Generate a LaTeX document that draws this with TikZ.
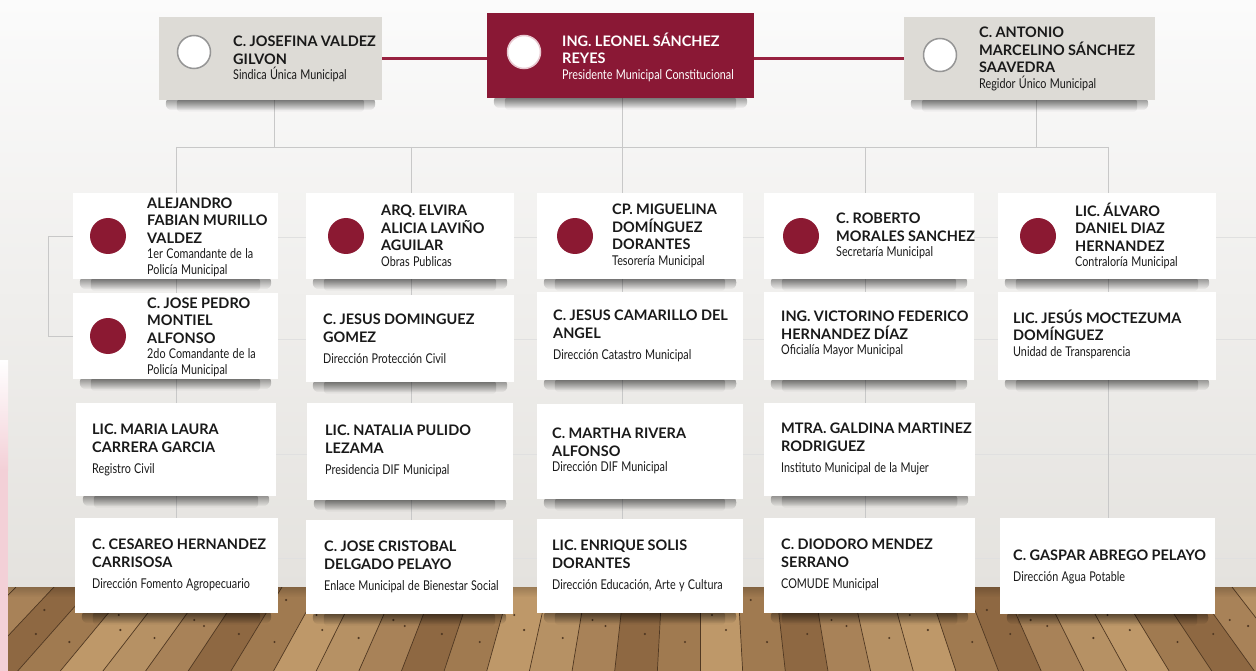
\documentclass[tikz,border=0pt]{standalone}
\usepackage{fontspec}
\setmainfont{Lato}
\newfontfamily\subfont{Lato}[FakeStretch=0.8]
\usetikzlibrary{fadings}
\definecolor{maroon}{RGB}{138,24,53}
\definecolor{dotred}{RGB}{139,25,50}
\definecolor{redln}{RGB}{152,34,64}
\definecolor{cardgray}{RGB}{221,219,214}
\definecolor{ringgray}{RGB}{150,150,150}
\definecolor{ringpink}{RGB}{232,200,208}
\definecolor{ink}{RGB}{25,25,25}
\definecolor{linegray}{RGB}{200,200,200}
\definecolor{walltop}{RGB}{251,251,251}
\definecolor{wallbot}{RGB}{228,226,222}
\definecolor{wood0}{RGB}{160,122,80}
\definecolor{wood1}{RGB}{182,145,100}
\definecolor{wood2}{RGB}{142,104,66}
\definecolor{wood3}{RGB}{190,152,105}
\definecolor{wood4}{RGB}{168,130,88}
\definecolor{plankline}{RGB}{80,56,34}
\definecolor{pinkstrip}{RGB}{243,208,215}
\tikzfading[name=shfade, top color=transparent!10, bottom color=transparent!100]
\newcommand\nm{\fontsize{14.5}{17.5}\selectfont\bfseries}
\newcommand\sbt{\fontsize{13.5}{15.5}\selectfont\subfont}
\newcommand\gp{\vspace{6pt}}
\newcommand\card[6]{\node[#2, minimum width={#5-#3}, minimum height={#6-#4}] (#1) at ({(#3+#5)/2},{(#4+#6)/2}) {};}
\newcommand\shadowunder[1]{%
  \fill[black, path fading=shfade, opacity=0.5, rounded corners=6pt] ([xshift=7pt,yshift=3pt]#1.south west) rectangle ([xshift=-7pt,yshift=-10pt]#1.south east);%
  \fill[black, path fading=shfade, opacity=0.3, rounded corners=4pt] ([xshift=18pt,yshift=2pt]#1.south west) rectangle ([xshift=-18pt,yshift=-12pt]#1.south east);}
\pgfdeclarelayer{walllayer}
\pgfdeclarelayer{linelayer}
\pgfdeclarelayer{shadowlayer}
\pgfsetlayers{walllayer,linelayer,shadowlayer,main}
\tikzset{
  whitecard/.style={rectangle, fill=white, inner sep=0},
  graycard/.style={rectangle, fill=cardgray, inner sep=0},
  redcard/.style={rectangle, fill=maroon, inner sep=0},
  dot/.style={circle, fill=dotred, minimum size=36pt, inner sep=0},
  ring/.style={circle, fill=white, draw=ringgray, line width=1.5pt, minimum size=33pt, inner sep=0},
  pinkring/.style={ring, draw=ringpink},
  txt/.style={anchor=west, align=left, inner sep=0, text width=220pt, text=ink},
  conn/.style={draw=linegray, line width=0.9pt},
  redline/.style={draw=redln, line width=3pt},
  tile/.style={draw=black!12, line width=0.8pt},
  plank/.style={draw=plankline, line width=0.7pt},
}
\begin{document}
\begin{tikzpicture}[x=1pt,y=-1pt]
\useasboundingbox (0,0) rectangle (1256,671);

% ---------- top row ----------
\card{jos}{graycard}{159}{17}{382}{100}
\node[ring] (josc) at (194,52) {};
\node[txt] (jost) at (233,59) {{\nm C. JOSEFINA VALDEZ\\GILVON\par}{\sbt Sindica Única Municipal\par}};

\card{leo}{redcard}{487}{13}{754}{98}
\node[pinkring] (leoc) at (524,52) {};
\node[txt, text=white] (leot) at (562,57) {{\nm ING. LEONEL SÁNCHEZ\\REYES\par}{\sbt Presidente Municipal Constitucional\par}};

\card{ant}{graycard}{904}{17}{1155}{100}
\node[ring] (antc) at (940,55) {};
\node[txt] (antt) at (979,59) {{\nm C. ANTONIO\\MARCELINO SÁNCHEZ\\SAAVEDRA\par}{\sbt Regidor Único Municipal\par}};

% ---------- row A ----------
\card{a1}{whitecard}{73}{193}{278}{279}
\node[dot] (a1c) at (108,236) {};
\node[txt] (a1t) at (147,237) {{\nm ALEJANDRO\\FABIAN MURILLO\\VALDEZ\par}{\sbt 1er Comandante de la\\Policía Municipal\par}};

\card{a2}{whitecard}{306}{193}{514}{279}
\node[dot] (a2c) at (346,236) {};
\node[txt] (a2t) at (381,236) {{\nm ARQ. ELVIRA\\ALICIA LAVIÑO\\AGUILAR\par}{\sbt Obras Publicas\par}};

\card{a3}{whitecard}{537}{193}{743}{279}
\node[dot] (a3c) at (575,236) {};
\node[txt] (a3t) at (612,236) {{\nm CP. MIGUELINA\\DOMÍNGUEZ\\DORANTES\par}{\sbt Tesorería Municipal\par}};

\card{a4}{whitecard}{764}{193}{974}{279}
\node[dot] (a4c) at (801,236) {};
\node[txt] (a4t) at (836,236) {{\nm C. ROBERTO\\MORALES SANCHEZ\par}{\sbt Secretaría Municipal\par}};

\card{a5}{whitecard}{998}{193}{1216}{279}
\node[dot] (a5c) at (1038,236) {};
\node[txt] (a5t) at (1075,236) {{\nm LIC. ÁLVARO\\DANIEL DIAZ\\HERNANDEZ\par}{\sbt Contraloría Municipal\par}};

% ---------- row B ----------
\card{b1}{whitecard}{73}{293}{278}{379}
\node[dot] (b1c) at (108,336) {};
\node[txt] (b1t) at (147,337) {{\nm C. JOSE PEDRO\\MONTIEL\\ALFONSO\par}{\sbt 2do Comandante de la\\Policía Municipal\par}};

\card{b2}{whitecard}{306}{295}{514}{382}
\node[txt] (b2t) at (323,339) {{\nm C. JESUS DOMINGUEZ\\GOMEZ\par}\gp{\sbt Dirección Protección Civil\par}};

\card{b3}{whitecard}{537}{292}{743}{380}
\node[txt] (b3t) at (553,336) {{\nm C. JESUS CAMARILLO DEL\\ANGEL\par}\gp{\sbt Dirección Catastro Municipal\par}};

\card{b4}{whitecard}{764}{292}{974}{380}
\node[txt] (b4t) at (781,334) {{\nm ING. VICTORINO FEDERICO\\HERNANDEZ DÍAZ\par}{\sbt Oficialía Mayor Municipal\par}};

\card{b5}{whitecard}{998}{292}{1216}{380}
\node[txt] (b5t) at (1013,334) {{\nm LIC. JESÚS MOCTEZUMA\\DOMÍNGUEZ\par}{\sbt Unidad de Transparencia\par}};

% ---------- row C ----------
\card{c1}{whitecard}{76}{403}{276}{496}
\node[txt] (c1t) at (92,450) {{\nm LIC. MARIA LAURA\\CARRERA GARCIA\par}\gp{\sbt Registro Civil\par}};

\card{c2}{whitecard}{307}{403}{513}{500}
\node[txt] (c2t) at (325,451) {{\nm LIC. NATALIA PULIDO\\LEZAMA\par}\gp{\sbt Presidencia DIF Municipal\par}};

\card{c3}{whitecard}{537}{404}{743}{499}
\node[txt] (c3t) at (552,451) {{\nm C. MARTHA RIVERA\\ALFONSO\par}{\sbt Dirección DIF Municipal\par}};

\card{c4}{whitecard}{764}{403}{975}{496}
\node[txt] (c4t) at (781,449) {{\nm MTRA. GALDINA MARTINEZ\\RODRIGUEZ\par}\gp{\sbt Instituto Municipal de la Mujer\par}};

% ---------- row D ----------
\card{d1}{whitecard}{75}{518}{278}{613}
\node[txt] (d1t) at (92,565) {{\nm C. CESAREO HERNANDEZ\\CARRISOSA\par}\gp{\sbt Dirección Fomento Agropecuario\par}};

\card{d2}{whitecard}{306}{520}{513}{614}
\node[txt] (d2t) at (324,567) {{\nm C. JOSE CRISTOBAL\\DELGADO PELAYO\par}\gp{\sbt Enlace Municipal de Bienestar Social\par}};

\card{d3}{whitecard}{537}{519}{743}{613}
\node[txt] (d3t) at (552,566) {{\nm LIC. ENRIQUE SOLIS\\DORANTES\par}\gp{\sbt Dirección Educación, Arte y Cultura\par}};

\card{d4}{whitecard}{764}{518}{975}{613}
\node[txt] (d4t) at (781,565) {{\nm C. DIODORO MENDEZ\\SERRANO\par}\gp{\sbt COMUDE Municipal\par}};

\card{d5}{whitecard}{1000}{518}{1215}{614}
\node[txt] (d5t) at (1013,567) {{\nm C. GASPAR ABREGO PELAYO\par}\gp{\sbt Dirección Agua Potable\par}};

% ---------- wall and floor ----------
\begin{pgfonlayer}{walllayer}
  \shade[top color=walltop, bottom color=wallbot] (0,0) rectangle (1256,588);
  \shade[top color=white, bottom color=pinkstrip] (0,360) rectangle (8,470);
  \fill[pinkstrip] (0,470) rectangle (8,671);
  \begin{scope}
    \clip (8,587) rectangle (1256,671);
    \fill[wood0] (0,587) rectangle (1256,671);
    \foreach \i in {-20,...,16} {
      \pgfmathsetmacro\xa{700+\i*38}
      \pgfmathsetmacro\xb{\xa+38}
      \pgfmathsetmacro\xc{\xa+(\xa-700)/687*84}
      \pgfmathsetmacro\xd{\xb+(\xb-700)/687*84}
      \pgfmathtruncatemacro\k{mod(abs(\i)*7+3,5)}
      \fill[wood\k] (\xa,587) -- (\xb,587) -- (\xd,671) -- (\xc,671) -- cycle;
      \draw[plank] (\xa,587) -- (\xc,671);
      \pgfmathsetmacro\ya{600+\k*5}
      \pgfmathsetmacro\xe{\xa+(\xa-700)/687*(\ya-587)+12}
      \fill[plankline] (\xe,\ya) circle (1.2);
      \pgfmathsetmacro\yb{642-\k*4}
      \pgfmathsetmacro\xf{\xa+(\xa-700)/687*(\yb-587)+26}
      \fill[plankline] (\xf,\yb) circle (1.2);
    }
    \fill[black, opacity=0.2, path fading=shfade] (0,587) rectangle (1256,597);
  \end{scope}
\end{pgfonlayer}

% ---------- tile lines and connectors ----------
\begin{pgfonlayer}{linelayer}
  \foreach \ty in {237,339,454,558} {\draw[tile] (176,\ty) -- (1256,\ty);}
  \coordinate (busL) at (176,147);
  \coordinate (busR) at (1108,147);
  \coordinate (f1) at (176,587);
  \coordinate (f2) at (411,587);
  \coordinate (f3) at (622,587);
  \coordinate (f4) at (865,587);
  \coordinate (f5) at (1108,587);
  \draw[conn] (busL) -- (busR);
  \draw[conn] ([xshift=3.5pt]jos.south) -- ([xshift=3.5pt]jos.south |- busL);
  \draw[conn] ([xshift=1.5pt]leo.south) -- ([xshift=1.5pt]leo.south |- busL);
  \draw[conn] ([xshift=6.5pt]ant.south) -- ([xshift=6.5pt]ant.south |- busL);
  \draw[conn] (busL) -- (f1);
  \draw[conn] (f2 |- busL) -- (f2);
  \draw[conn] (f3 |- busL) -- (f3);
  \draw[conn] (f4 |- busL) -- (f4);
  \draw[conn] (busR) -- (f5);
  \draw[conn] (a1.west) -- ++(-24,0) |- (b1.west);
\end{pgfonlayer}

% ---------- shadows ----------
\begin{pgfonlayer}{shadowlayer}
  \foreach \n in {jos,leo,ant,a1,a2,a3,a4,a5,b1,b2,b3,b4,b5,c1,c2,c3,c4,d1,d2,d3,d4,d5} {\shadowunder{\n}}
\end{pgfonlayer}

% ---------- red links between top cards ----------
\draw[redline] (jos.east) -- (jos.east -| leo.west);
\draw[redline] (leo.east |- ant.west) -- (ant.west);
\end{tikzpicture}
\end{document}
